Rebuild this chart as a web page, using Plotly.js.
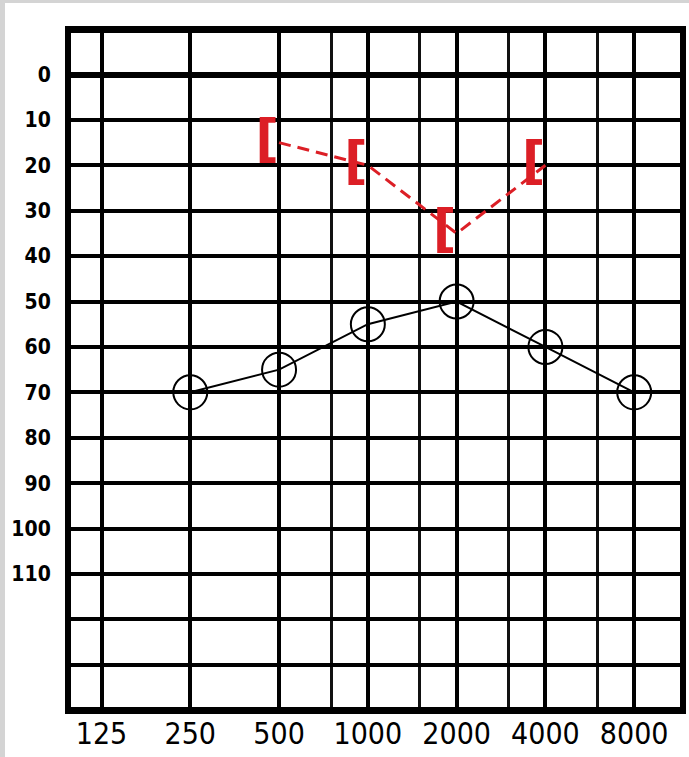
<!DOCTYPE html>
<html>
<head>
<meta charset="utf-8">
<script src="https://cdn.plot.ly/plotly-3.0.1.min.js"></script>
<style>
  html, body { margin: 0; padding: 0; background: #d4d4d4; width: 689px; height: 757px; overflow: hidden; }
  #chart { position: absolute; left: 5px; top: 3px; width: 684px; height: 754px; background: #ffffff; }
</style>
</head>
<body>
<div id="chart"></div>
<script>
// Frequencies (Hz) labelled on the x axis
const freqTicks = [125, 250, 500, 1000, 2000, 4000, 8000];
const freqTickText = ['125', '250', '500', '1000', '2000', '4000', '8000'];
// Half-octave grid lines (unlabelled)
const halfOctaves = [750, 1500, 3000, 6000];
// Hearing level (dB) grid and labels
const dbTicks = [0, 10, 20, 30, 40, 50, 60, 70, 80, 90, 100, 110, 120, 130];
const dbTickText = ['0', '10', '20', '30', '40', '50', '60', '70', '80', '90', '100', '110', '', ''];
// Air conduction thresholds (black circles)
const acFreqs = [250, 500, 1000, 2000, 4000, 8000];
const acDb = [70, 65, 55, 50, 60, 70];
// Masked bone conduction thresholds (red brackets)
const bcFreqs = [500, 1000, 2000, 4000];
const bcDb = [15, 20, 35, 20];
const bcSymbol = '[';

const red = '#dc1f26';

const traces = [
  {
    x: acFreqs, y: acDb, type: 'scatter', mode: 'lines+markers',
    line: { color: '#000000', width: 2 },
    marker: { symbol: 'circle-open', size: 34, color: '#000000', line: { width: 2, color: '#000000' } },
    hoverinfo: 'skip'
  },
  {
    x: bcFreqs, y: bcDb, type: 'scatter', mode: 'lines+text',
    line: { color: red, width: 3, dash: '12px,7px' },
    text: bcFreqs.map(() => bcSymbol),
    textposition: 'middle left',
    textfont: { family: 'DejaVu Sans, sans-serif', size: 52, color: red, weight: 'bold' },
    hoverinfo: 'skip'
  }
];

const layout = {
  width: 684, height: 754,
  margin: { l: 66, r: 9, t: 30, b: 50, pad: 0 },
  paper_bgcolor: '#ffffff', plot_bgcolor: '#ffffff',
  showlegend: false,
  xaxis: {
    type: 'log', range: [1.9935, 4.0584],
    tickmode: 'array', tickvals: freqTicks, ticktext: freqTickText,
    showgrid: true, gridcolor: '#000000', gridwidth: 4,
    minor: { tickmode: 'array', tickvals: halfOctaves, showgrid: true, gridcolor: '#111111', gridwidth: 3, ticks: '' },
    showline: true, mirror: true, linecolor: '#000000', linewidth: 7,
    ticks: '', zeroline: false, ticklabelstandoff: -6,
    tickfont: { family: 'DejaVu Sans Condensed, sans-serif', size: 30, color: '#000000' }
  },
  yaxis: {
    range: [139.3, -9.14],
    tickmode: 'array', tickvals: dbTicks, ticktext: dbTickText,
    showgrid: true, gridcolor: '#000000', gridwidth: 4,
    zeroline: true, zerolinecolor: '#000000', zerolinewidth: 6,
    showline: true, mirror: true, linecolor: '#000000', linewidth: 6,
    ticks: '', ticklabelstandoff: 10,
    tickfont: { family: 'DejaVu Sans Condensed, DejaVu Sans, sans-serif', size: 21, color: '#000000', weight: 'bold' }
  }
};

Plotly.newPlot('chart', traces, layout, { staticPlot: true, displayModeBar: false });
</script>
</body>
</html>
